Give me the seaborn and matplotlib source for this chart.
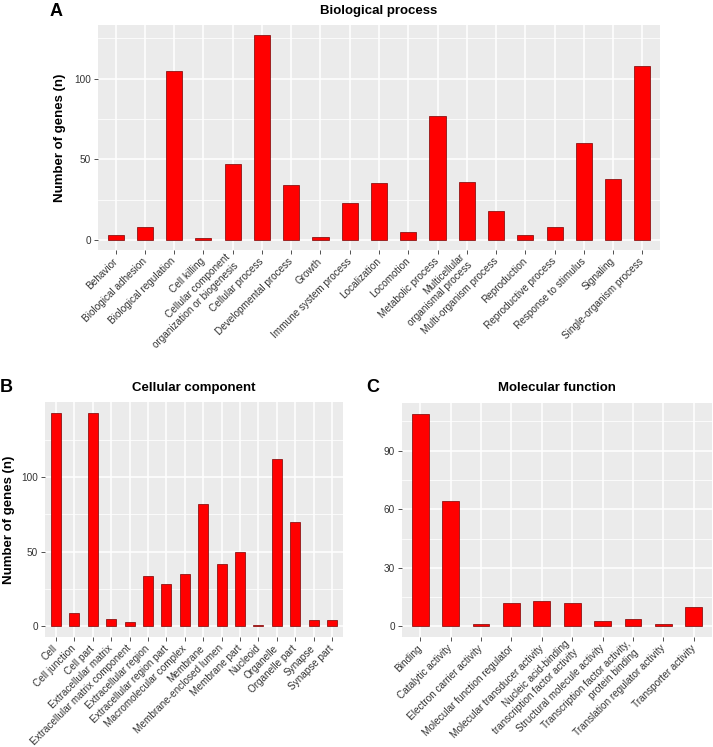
import matplotlib
matplotlib.use("Agg")
import matplotlib.pyplot as plt
import seaborn as sns
import pandas as pd
from matplotlib.ticker import FixedLocator

# ---------------- data ----------------
bp_categories = [
    "Behavior", "Biological adhesion", "Biological regulation", "Cell killing",
    "Cellular component\norganization or biogenesis", "Cellular process",
    "Developmental process", "Growth", "Immune system process", "Localization",
    "Locomotion", "Metabolic process", "Multicellular\norganismal process",
    "Multi-organism process", "Reproduction", "Reproductive process",
    "Response to stimulus", "Signaling", "Single-organism process",
]
bp_counts = [3, 8, 105, 1, 47, 127, 34, 2, 23, 35, 5, 77, 36, 18, 3, 8, 60, 38, 108]
bp_yticks = [0, 50, 100]

cc_categories = [
    "Cell", "Cell junction", "Cell part", "Extracellular matrix",
    "Extracellular matrix component", "Extracellular region",
    "Extracellular region part", "Macromolecular complex", "Membrane",
    "Membrane-enclosed lumen", "Membrane part", "Nucleoid", "Organelle",
    "Organelle part", "Synapse", "Synapse part",
]
cc_counts = [143, 9, 143, 5, 3, 34, 28, 35, 82, 42, 50, 1, 112, 70, 4, 4]
cc_yticks = [0, 50, 100]

mf_categories = [
    "Binding", "Catalytic activity", "Electron carrier activity",
    "Molecular function regulator", "Molecular transducer activity",
    "Nucleic acid-binding\ntranscription factor activity",
    "Structural molecule activity",
    "Transcription factor activity,\nprotein binding",
    "Translation regulator activity", "Transporter activity",
]
mf_counts = [109, 64, 1, 12, 13, 12, 3, 4, 1, 10]
mf_yticks = [0, 30, 60, 90]

# ---------------- style ----------------
plt.rcParams["font.family"] = ["Liberation Sans", "DejaVu Sans"]
W, H = 713, 747
fig = plt.figure(figsize=(W / 100, H / 100), dpi=100)


def px_axes(left, top, right, bottom):
    return fig.add_axes([left / W, 1 - bottom / H, (right - left) / W, (bottom - top) / H])


def draw(ax, cats, vals, yticks, ylabel=None, ylabel_x=None):
    df = pd.DataFrame({"term": cats, "n": vals})
    sns.barplot(data=df, x="term", y="n", color="#FF0000", saturation=1,
                width=0.55, edgecolor="#7a0000", linewidth=0.5, ax=ax)
    n = len(cats)
    ax.set_xlim(-0.6, n - 0.4)
    top = max(vals)
    ax.set_ylim(-0.05 * top, 1.05 * top)
    ax.set_facecolor("#EBEBEB")
    for s in ax.spines.values():
        s.set_visible(False)
    ax.set_axisbelow(True)
    ax.yaxis.set_major_locator(FixedLocator(yticks))
    step = yticks[1] - yticks[0]
    minors = [t + step / 2 for t in yticks]
    ax.yaxis.set_minor_locator(FixedLocator(minors))
    ax.grid(which="major", color="white", linewidth=1.1)
    ax.grid(which="minor", axis="y", color="white", linewidth=0.55)
    ax.tick_params(axis="both", which="major", length=3, width=0.6,
                   color="#333333", labelcolor="#333333", labelsize=7.2, pad=2)
    ax.tick_params(axis="x", which="major", pad=4)
    ax.tick_params(axis="y", which="minor", length=0)
    ax.set_xticks(range(n))
    ax.set_xticklabels(cats, rotation=45, ha="right", va="center",
                       rotation_mode="anchor", multialignment="right")
    ax.set_xlabel("")
    if ylabel:
        ax.set_ylabel(ylabel, fontsize=9.5, fontweight="bold", color="black")
        ax.yaxis.set_label_coords(ylabel_x, 0.5)
    else:
        ax.set_ylabel("")


axA = px_axes(98, 25, 660, 250)
draw(axA, bp_categories, bp_counts, bp_yticks, "Number of genes (n)", (66 - 98) / 562)

axB = px_axes(45, 402, 343, 637)
draw(axB, cc_categories, cc_counts, cc_yticks, "Number of genes (n)", (15 - 45) / 298)

axC = px_axes(402, 403, 712, 637)
draw(axC, mf_categories, mf_counts, mf_yticks)


def ftext(x, y, s, **kw):
    fig.text(x / W, 1 - y / H, s, **kw)


ftext(379, 11, "Biological process", ha="center", va="center", fontsize=9.5, fontweight="bold")
ftext(194, 388, "Cellular component", ha="center", va="center", fontsize=9.5, fontweight="bold")
ftext(557, 388, "Molecular function", ha="center", va="center", fontsize=9.5, fontweight="bold")
ftext(50, 11, "A", ha="left", va="center", fontsize=13, fontweight="bold")
ftext(0, 388, "B", ha="left", va="center", fontsize=13, fontweight="bold")
ftext(366, 388, "C", ha="left", va="center", fontsize=13, fontweight="bold")

fig.savefig("out.png", dpi=100)
